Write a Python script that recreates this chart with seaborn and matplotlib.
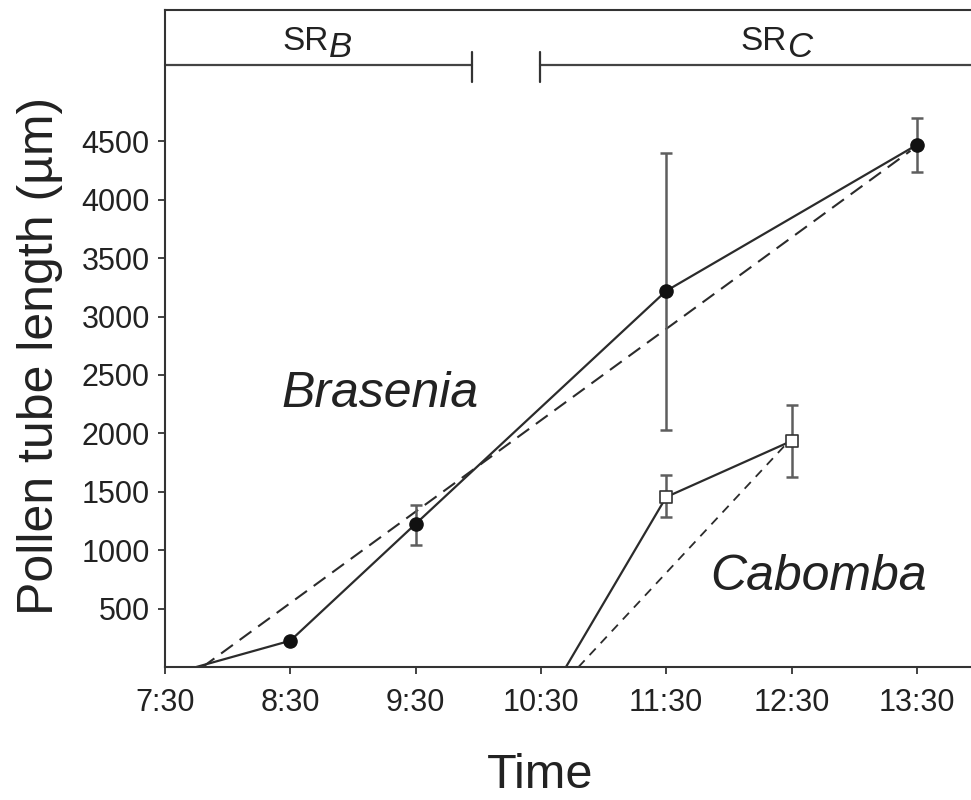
import matplotlib
matplotlib.use("Agg")
import matplotlib.pyplot as plt
import seaborn as sns
import pandas as pd

# ---- data ----
tick_hours = [7.5, 8.5, 9.5, 10.5, 11.5, 12.5, 13.5]
tick_labels = ["7:30", "8:30", "9:30", "10:30", "11:30", "12:30", "13:30"]
y_ticks = [500, 1000, 1500, 2000, 2500, 3000, 3500, 4000, 4500]

bras_t = [7.75, 8.5, 9.5, 11.5, 13.5]
bras_y = [0, 225, 1225, 3220, 4470]
bras_pt_t = [8.5, 9.5, 11.5, 13.5]
bras_pt_y = [225, 1225, 3220, 4470]
bras_lo = [225, 1045, 2030, 4240]
bras_hi = [225, 1390, 4400, 4700]

cab_t = [10.7, 11.5, 12.5]
cab_y = [0, 1455, 1935]
cab_pt_t = [11.5, 12.5]
cab_pt_y = [1455, 1935]
cab_lo = [1280, 1630]
cab_hi = [1645, 2245]

bras_fit_t = [7.8, 13.45]
bras_fit_y = [0, 4420]
cab_fit_t = [10.8, 12.45]
cab_fit_y = [0, 1900]

sr_names = ["B", "C"]
sr_start = [7.5, 10.49]
sr_end = [9.95, 13.95]

# ---- style ----
sns.set_style("ticks")
plt.rcParams["font.family"] = ["Liberation Sans", "DejaVu Sans"]

line_c = "#2b2b2b"
err_c = "#5e5e5e"
spine_c = "#333333"

fig = plt.figure(figsize=(9.71, 8), dpi=100)
ax = fig.add_axes([165 / 971, 133 / 800, 806 / 971, 657 / 800])

# fitted dashed lines
sns.lineplot(x=bras_fit_t, y=bras_fit_y, ax=ax, color=line_c, lw=1.5,
             linestyle=(0, (7, 4)))
sns.lineplot(x=cab_fit_t, y=cab_fit_y, ax=ax, color=line_c, lw=1.3,
             linestyle=(0, (5, 4)))

# observed lines
sns.lineplot(x=bras_t, y=bras_y, ax=ax, color=line_c, lw=1.6)
sns.lineplot(x=cab_t, y=cab_y, ax=ax, color=line_c, lw=1.6)

# error bars
ax.errorbar(bras_pt_t, bras_pt_y,
            yerr=[[m - l for m, l in zip(bras_pt_y, bras_lo)],
                  [h - m for m, h in zip(bras_pt_y, bras_hi)]],
            fmt="none", ecolor=err_c, elinewidth=1.8, capsize=4.5, capthick=1.8, zorder=3)
ax.errorbar(cab_pt_t, cab_pt_y,
            yerr=[[m - l for m, l in zip(cab_pt_y, cab_lo)],
                  [h - m for m, h in zip(cab_pt_y, cab_hi)]],
            fmt="none", ecolor=err_c, elinewidth=1.8, capsize=4.5, capthick=1.8, zorder=3)

# markers
sns.scatterplot(x=bras_pt_t, y=bras_pt_y, ax=ax, marker="o", s=90,
                color="#111111", edgecolor="#111111", linewidth=1, zorder=4)
sns.scatterplot(x=cab_pt_t, y=cab_pt_y, ax=ax, marker="s", s=75,
                color="white", edgecolor="#333333", linewidth=1.2, zorder=4)

# axes limits / ticks
ax.set_xlim(7.5, 7.5 + 806 / 125.3)
ax.set_ylim(0, 5625)
ax.set_xticks(tick_hours)
ax.set_xticklabels(tick_labels)
ax.set_yticks(y_ticks)
ax.tick_params(axis="both", labelsize=22, colors="#222222", length=5, width=1.2, pad=6)
ax.tick_params(axis="x", pad=10)

for side in ["left", "bottom", "top"]:
    ax.spines[side].set_visible(True)
    ax.spines[side].set_color(spine_c)
    ax.spines[side].set_linewidth(1.5)
ax.spines["right"].set_visible(False)

ax.set_xlabel("Time", fontsize=35, color="#222222")
ax.set_ylabel("Pollen tube length (µm)", fontsize=36, color="#222222")
ax.xaxis.set_label_coords((540 - 165) / 806, -(798 - 667) / 657, transform=ax.transAxes)
ax.xaxis.label.set_va("bottom")
ax.yaxis.set_label_coords(-(165 - 40) / 806, (667 - 356) / 657)
ax.yaxis.label.set_va("center")

# stigma receptivity band
band_y = 5150
for s0, s1, i in zip(sr_start, sr_end, range(len(sr_names))):
    ax.plot([s0, s1], [band_y, band_y], color="#444444", lw=1.6, clip_on=False, zorder=2)
    tick_x = s1 if i == 0 else s0
    ax.plot([tick_x, tick_x], [band_y - 145, band_y + 115], color="#333333", lw=1.6, zorder=2)

sr_right_px = [329, 787]
for name, xp in zip(sr_names, sr_right_px):
    fig.text(xp / 971, 1 - 50 / 800, "SR", ha="right", va="baseline",
             fontsize=24, color="#222222")
    fig.text(xp / 971, 1 - 57 / 800, name, ha="left", va="baseline",
             fontsize=25, style="italic", color="#222222")

# species labels
ax.text(7.5 + (381 - 166) / 125.3, (667 - 407) / 0.1168, "Brasenia",
        fontsize=36, style="italic", ha="center", va="baseline", color="#222222")
ax.text(7.5 + (819 - 166) / 125.3, (667 - 590) / 0.1168, "Cabomba",
        fontsize=36, style="italic", ha="center", va="baseline", color="#222222")

fig.savefig("out.png", dpi=100)
